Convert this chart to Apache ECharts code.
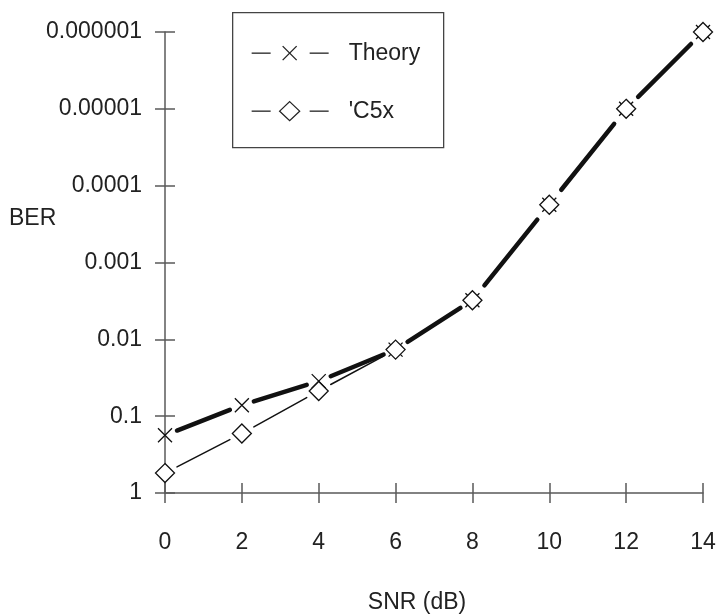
<!DOCTYPE html>
<html>
<head>
<meta charset="utf-8">
<script src="https://cdn.jsdelivr.net/npm/echarts@6/dist/echarts.min.js"></script>
<style>html,body{margin:0;padding:0;background:#fff;}#c{width:719px;height:614px;}</style>
</head>
<body>
<div id="c"></div>
<script>
const snr = [0, 2, 4, 6, 8, 10, 12, 14];
const theory = [0.177, 0.072, 0.035, 0.0136, 0.0031, 0.000177, 0.00001, 0.000001];
const c5x = [0.55, 0.168, 0.047, 0.0136, 0.0031, 0.000177, 0.00001, 0.000001];
const xTicks = [0, 2, 4, 6, 8, 10, 12, 14];
const yTickLabels = ['0.000001', '0.00001', '0.0001', '0.001', '0.01', '0.1', '1'];

const FONT = 'Liberation Sans, Arial, Helvetica, sans-serif';
const FS = 23;
const TXT = '#222';
const AX = '#5a5a5a';

function fmtY(v) {
  const e = Math.round(-Math.log10(v));
  const idx = 6 - e;
  return yTickLabels[idx] !== undefined ? yTickLabels[idx] : String(v);
}

function segSeries(ys, width, gapX, z) {
  return {
    type: 'custom',
    coordinateSystem: 'cartesian2d',
    silent: true,
    z: z,
    data: snr.map((x, i) => [x, ys[i]]),
    renderItem: function (params, api) {
      const i = params.dataIndex;
      if (i >= snr.length - 1) return null;
      const a = api.coord([snr[i], ys[i]]);
      const b = api.coord([snr[i + 1], ys[i + 1]]);
      const dx = b[0] - a[0], dy = b[1] - a[1];
      const t = gapX / Math.abs(dx);
      return {
        type: 'line',
        shape: { x1: a[0] + dx * t, y1: a[1] + dy * t, x2: b[0] - dx * t, y2: b[1] - dy * t },
        style: { stroke: '#111', lineWidth: width, lineCap: 'round' }
      };
    }
  };
}

const xSymbol = 'path://M0 0L10 10M10 0L0 10';

const chart = echarts.init(document.getElementById('c'), null, { renderer: 'canvas' });
chart.setOption({
  animation: false,
  backgroundColor: '#fff',
  grid: { left: 165, right: 16, top: 32, bottom: 121, containLabel: false },
  xAxis: [
    {
      type: 'value', min: 0, max: 14, interval: 2, position: 'bottom',
      axisLine: { show: true, onZero: false, lineStyle: { color: AX, width: 1.5 } },
      axisTick: { show: true, inside: false, length: 10, lineStyle: { color: AX, width: 1.5 } },
      axisLabel: { show: true, margin: 38, color: TXT, fontSize: FS, fontFamily: FONT,
        formatter: v => String(xTicks[xTicks.indexOf(v)]) },
      splitLine: { show: false }
    },
    {
      type: 'value', min: 0, max: 14, interval: 2, position: 'bottom',
      axisLine: { show: false, onZero: false },
      axisTick: { show: true, inside: true, length: 10, lineStyle: { color: AX, width: 1.5 } },
      axisLabel: { show: false },
      splitLine: { show: false }
    }
  ],
  yAxis: [
    {
      type: 'log', logBase: 10, min: 0.000001, max: 1, interval: 1, inverse: true, position: 'left',
      axisLine: { show: true, onZero: false, lineStyle: { color: AX, width: 1.5 } },
      axisTick: { show: true, inside: false, length: 10, lineStyle: { color: AX, width: 1.5 } },
      axisLabel: { show: true, margin: 23, color: TXT, fontSize: FS, fontFamily: FONT, formatter: fmtY },
      splitLine: { show: false },
      minorTick: { show: false }
    },
    {
      type: 'log', logBase: 10, min: 0.000001, max: 1, interval: 1, inverse: true, position: 'left',
      axisLine: { show: false, onZero: false },
      axisTick: { show: true, inside: true, length: 10, lineStyle: { color: AX, width: 1.5 } },
      axisLabel: { show: false },
      splitLine: { show: false }
    }
  ],
  series: [
    segSeries(c5x, 1.5, 12, 2),
    segSeries(theory, 4.5, 12, 3),
    {
      name: 'Theory', type: 'scatter', silent: true, z: 4,
      data: snr.map((x, i) => [x, theory[i]]),
      symbol: xSymbol, symbolSize: 14,
      itemStyle: { color: 'transparent', borderColor: '#111', borderWidth: 1.3, opacity: 1 }
    },
    {
      name: "'C5x", type: 'scatter', silent: true, z: 5,
      data: snr.map((x, i) => [x, c5x[i]]),
      symbol: 'diamond', symbolSize: [19, 19],
      itemStyle: { color: '#fff', borderColor: '#111', borderWidth: 1.3, opacity: 1 }
    }
  ],
  graphic: [
    { type: 'text', left: 9, top: 207, style: { text: 'BER', fontSize: FS, fontFamily: FONT, fill: TXT } },
    { type: 'text', x: 417, y: 603, style: { text: 'SNR (dB)', fontSize: FS, fontFamily: FONT, fill: TXT, align: 'center', verticalAlign: 'middle' } },
    {
      type: 'group', left: 232, top: 12,
      children: [
        { type: 'rect', shape: { x: 0, y: 0, width: 211, height: 135 }, style: { fill: '#fff', stroke: '#444', lineWidth: 1.3 } },
        { type: 'line', shape: { x1: 19, y1: 40.5, x2: 38, y2: 40.5 }, style: { stroke: '#222', lineWidth: 1.3 } },
        { type: 'line', shape: { x1: 77, y1: 40.5, x2: 96, y2: 40.5 }, style: { stroke: '#222', lineWidth: 1.3 } },
        { type: 'line', shape: { x1: 50, y1: 33.5, x2: 64, y2: 47.5 }, style: { stroke: '#222', lineWidth: 1.3 } },
        { type: 'line', shape: { x1: 64, y1: 33.5, x2: 50, y2: 47.5 }, style: { stroke: '#222', lineWidth: 1.3 } },
        { type: 'text', x: 116, y: 41, style: { text: 'Theory', fontSize: FS, fontFamily: FONT, fill: TXT, verticalAlign: 'middle' } },
        { type: 'line', shape: { x1: 19, y1: 98.5, x2: 38, y2: 98.5 }, style: { stroke: '#222', lineWidth: 1.3 } },
        { type: 'line', shape: { x1: 77, y1: 98.5, x2: 96, y2: 98.5 }, style: { stroke: '#222', lineWidth: 1.3 } },
        { type: 'polygon', shape: { points: [[57, 89], [67, 98.5], [57, 108], [47, 98.5]] }, style: { fill: '#fff', stroke: '#222', lineWidth: 1.3 } },
        { type: 'text', x: 116, y: 99, style: { text: "'C5x", fontSize: FS, fontFamily: FONT, fill: TXT, verticalAlign: 'middle' } }
      ]
    }
  ]
});
</script>
</body>
</html>
